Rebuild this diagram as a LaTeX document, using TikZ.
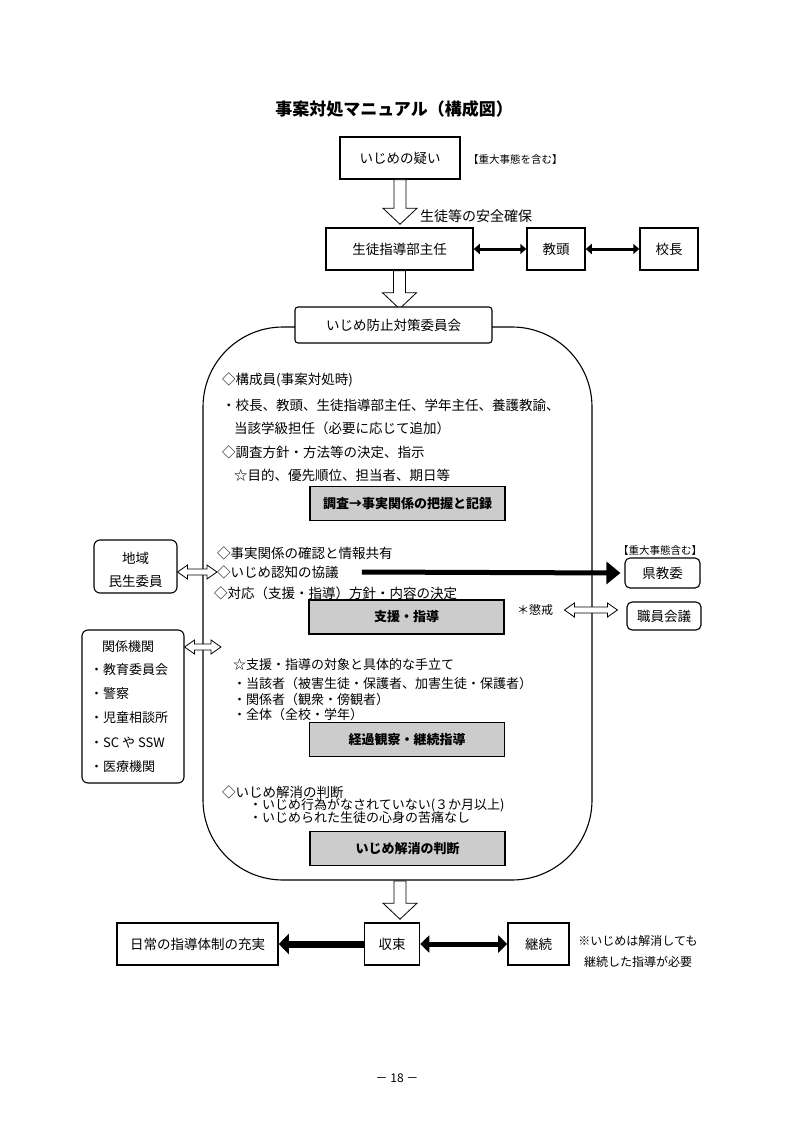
\documentclass[tikz,border=0pt]{standalone}
\usepackage{fontspec}
\setmainfont{Noto Sans CJK JP}
\usetikzlibrary{arrows.meta,calc}
\newcommand\jsz[1]{\fontsize{#1}{#1}\selectfont}
\newcommand\hdown[2]{\draw[hollow] ($(#1)+(-6,0)$) -- ($(#2)+(-6,-16)$) -- ($(#2)+(-17,-16)$) -- (#2) -- ($(#2)+(17,-16)$) -- ($(#2)+(6,-16)$) -- ($(#1)+(6,0)$) -- cycle;}
\newcommand\hboth[2]{\draw[hollow] (#1) -- ($(#1)+(10,-7)$) -- ($(#1)+(10,-3)$) -- ($(#2)+(-10,-3)$) -- ($(#2)+(-10,-7)$) -- (#2) -- ($(#2)+(-10,7)$) -- ($(#2)+(-10,3)$) -- ($(#1)+(10,3)$) -- ($(#1)+(10,7)$) -- cycle;}
\tikzset{
  box/.style={draw, line width=1.5pt, inner sep=0pt, font=\jsz{13.5}},
  rbox/.style={draw, line width=1.1pt, rounded corners=6pt, inner sep=0pt, font=\jsz{13.5}},
  graybox/.style={draw, line width=1.6pt, fill=black!20, inner sep=0pt, minimum width=195pt, minimum height=34pt, font=\bfseries\jsz{13}},
  txt/.style={anchor=west, inner sep=0pt, font=\jsz{13.5}},
  stxt/.style={anchor=west, inner sep=0pt, font=\jsz{13}},
  hollow/.style={draw, line width=0.8pt, fill=white, line join=miter},
  dbl/.style={line width=3pt, {Triangle[length=6pt,width=10pt]}-{Triangle[length=6pt,width=10pt]}},
  dblbig/.style={line width=5pt, {Triangle[length=9pt,width=17pt]}-{Triangle[length=9pt,width=17pt]}},
  onebig/.style={line width=7pt, -{Triangle[length=10pt,width=20pt]}},
  kenarrow/.style={line width=5pt, -{Triangle[length=14pt,width=22pt]}},
}
\begin{document}
\begin{tikzpicture}[x=1pt,y=-1pt]
\useasboundingbox (0,0) rectangle (794,1123);

% title
\node[font=\bfseries\jsz{17}, inner sep=0pt] (title) at (394,109) {事案対処マニュアル（構成図）};

% top chain
\node[box, minimum width=120pt, minimum height=42pt] (ijime) at (400,158) {いじめの疑い};
\node[anchor=west, inner sep=0pt, font=\jsz{10.5}] (juudai1) at (468,160) {【重大事態を含む】};
\node[box, minimum width=147pt, minimum height=42pt] (shido) at (399.5,249) {生徒指導部主任};
\node[box, minimum width=58pt, minimum height=42pt] (kyoto) at (556,249) {教頭};
\node[box, minimum width=58pt, minimum height=42pt] (kocho) at (669,249) {校長};
\node[anchor=west, inner sep=0pt, font=\jsz{14}] (anzen) at (420,216) {生徒等の安全確保};

\coordinate (p1) at ($(ijime.south |- shido.north)+(0,-3)$);
\hdown{ijime.south}{p1}
\draw[dbl] (shido.east) -- (kyoto.west);
\draw[dbl] (kyoto.east) -- (kocho.west);

% big committee box
\node[draw, line width=1.1pt, rounded corners=80pt, minimum width=389pt, minimum height=553pt, inner sep=0pt] (big) at (397.5,603.5) {};
\coordinate (p2) at ($(shido.south)+(0,38)$);
\hdown{shido.south}{p2}
\node[draw, line width=1.1pt, rounded corners=3pt, fill=white, minimum width=197pt, minimum height=36pt, inner sep=0pt, font=\jsz{13.5}] (iinkai) at (393.5,325) {いじめ防止対策委員会};

% texts in big box
\node[txt] (t1) at (222,380) {◇構成員(事案対処時)};
\node[txt] (t2) at (222,405) {・校長、教頭、生徒指導部主任、学年主任、養護教諭、};
\node[txt] (t3) at (234,428) {当該学級担任（必要に応じて追加）};
\node[txt] (t4) at (222,452) {◇調査方針・方法等の決定、指示};
\node[txt] (t5) at (234,475) {☆目的、優先順位、担当者、期日等};
\node[graybox] (g1) at (407.5,503.5) {調査→事実関係の把握と記録};

\node[txt] (t6) at (217,553) {◇事実関係の確認と情報共有};
\node[txt] (ninchi) at (217,572) {◇いじめ認知の協議};
\node[txt] (t8) at (214,593) {◇対応（支援・指導）方針・内容の決定};
\node[graybox] (g2) at (406.5,617) {支援・指導};
\node[anchor=west, inner sep=0pt, font=\jsz{12}] (choukai) at (517,610) {＊懲戒};

\node[stxt] (t9) at (233,665) {☆支援・指導の対象と具体的な手立て};
\node[stxt] (t10) at (233,684) {・当該者（被害生徒・保護者、加害生徒・保護者）};
\node[stxt] (t11) at (233,700) {・関係者（観衆・傍観者）};
\node[stxt] (t12) at (233,715) {・全体（全校・学年）};
\node[graybox] (g3) at (407,739.5) {経過観察・継続指導};

\node[txt] (t13) at (222,792) {◇いじめ解消の判断};
\node[stxt] (t14) at (249,805) {・いじめ行為がなされていない(３か月以上)};
\node[stxt] (t15) at (249,818) {・いじめられた生徒の心身の苦痛なし};
\node[graybox] (g4) at (407.5,848.5) {いじめ解消の判断};

% left boxes
\node[rbox, minimum width=83pt, minimum height=53pt] (chiiki) at (135.5,566.5) {};
\node[inner sep=0pt, font=\jsz{13.5}] (chiiki1) at (135.5,558) {地域};
\node[inner sep=0pt, font=\jsz{13.5}] (chiiki2) at (135.5,581) {民生委員};
\node[rbox, minimum width=102pt, minimum height=153pt] (kankei) at (133,706.5) {};
\node[stxt] (k1) at (102,647) {関係機関};
\node[stxt] (k2) at (90,670) {・教育委員会};
\node[stxt] (k3) at (90,694) {・警察};
\node[stxt] (k4) at (90,718) {・児童相談所};
\node[stxt] (k5) at (90,743) {・SC や SSW};
\node[stxt] (k6) at (90,767) {・医療機関};

\coordinate (c1) at (chiiki.east |- ninchi.west);
\hboth{c1}{ninchi.west}
\coordinate (c2) at (kankei.east |- k1.west);
\coordinate (c3) at (221,647);
\hboth{c2}{c3}

% right boxes
\node[inner sep=0pt, font=\jsz{10.5}] (juudai2) at (660,551) {【重大事態含む】};
\node[rbox, rounded corners=5pt, minimum width=75pt, minimum height=30pt] (kenkyoi) at (662.5,573) {県教委};
\node[rbox, rounded corners=5pt, minimum width=74pt, minimum height=28pt] (shokuin) at (664,616) {職員会議};
\coordinate (c4) at ($(ninchi.east)+(23,0)$);
\coordinate (c5) at ($(kenkyoi.west)+(-4,0)$);
\draw[kenarrow] (c4) -- (c5);
\coordinate (c6) at ($(choukai.east)+(11,0)$);
\coordinate (c7) at ($(shokuin.west |- choukai.east)+(-9,0)$);
\hboth{c6}{c7}

% bottom
\node[box, line width=1.6pt, minimum width=161pt, minimum height=42pt] (nichijou) at (197.5,944) {日常の指導体制の充実};
\node[box, line width=1.6pt, minimum width=55pt, minimum height=42pt] (shuusoku) at (392,944) {収束};
\node[box, line width=1.6pt, minimum width=61pt, minimum height=42pt] (keizoku) at (538.5,944) {継続};
\coordinate (b1) at (400,881);
\coordinate (b2) at ($(b1 |- shuusoku.north)+(0,-3)$);
\hdown{b1}{b2}
\draw[onebig] (shuusoku.west) -- (nichijou.east);
\draw[dblbig] (shuusoku.east) -- (keizoku.west);
\node[inner sep=0pt, font=\jsz{12}] (note1) at (638,941) {※いじめは解消しても};
\node[inner sep=0pt, font=\jsz{12}] (note2) at (638,962) {継続した指導が必要};

% footer
\node[inner sep=0pt, font=\jsz{12}] (page) at (397,1078) {－ 18 －};
\end{tikzpicture}
\end{document}
